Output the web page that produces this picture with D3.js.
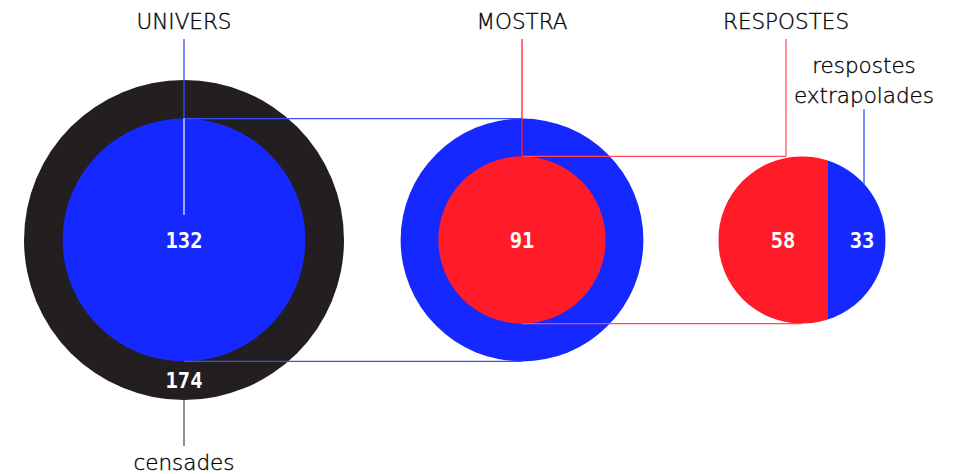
<!DOCTYPE html>
<html><head><meta charset="utf-8">
<script src="https://cdn.jsdelivr.net/npm/d3@7"></script>
<style>body{margin:0;background:#fff}svg{display:block}</style>
</head><body><svg id="c" width="956" height="474"></svg>
<script>
const categories = ["UNIVERS","MOSTRA","RESPOSTES"];
const totals = [174, 132, 91];
const inner = [132, 91];
const respostes = [58, 33];
const partLabels = ["censades","respostes extrapolades"];

const BLACK="#231f20", BLUE="#1428ff", RED="#ff1c28";
const svg=d3.select("#c");
const r=d3.scaleLinear().domain([0,174]).range([0,160]);
const xs={UNIVERS:184,MOSTRA:522,RESPOSTES:802};
const cy=240;

svg.append("circle").attr("cx",xs.UNIVERS).attr("cy",cy).attr("r",r(totals[0])).attr("fill",BLACK);
svg.append("circle").attr("cx",xs.UNIVERS).attr("cy",cy).attr("r",r(inner[0])).attr("fill",BLUE);
svg.append("circle").attr("cx",xs.MOSTRA).attr("cy",cy).attr("r",r(totals[1])).attr("fill",BLUE);
svg.append("circle").attr("cx",xs.MOSTRA).attr("cy",cy).attr("r",r(inner[1])).attr("fill",RED);
const rr=r(totals[2]);
const split=xs.RESPOSTES-rr+2*rr*respostes[0]/totals[2]+3;
const cp=svg.append("clipPath").attr("id","cp");
cp.append("circle").attr("cx",xs.RESPOSTES).attr("cy",cy).attr("r",rr);
const gr=svg.append("g").attr("clip-path","url(#cp)");
gr.append("rect").attr("x",xs.RESPOSTES-rr).attr("y",cy-rr).attr("width",split-(xs.RESPOSTES-rr)).attr("height",2*rr).attr("fill",RED);
gr.append("rect").attr("x",split).attr("y",cy-rr).attr("width",xs.RESPOSTES+rr-split).attr("height",2*rr).attr("fill",BLUE);

const line=(x1,y1,x2,y2,c)=>svg.append("line").attr("x1",x1).attr("y1",y1).attr("x2",x2).attr("y2",y2).attr("stroke",c).attr("stroke-width",1.3);
line(xs.UNIVERS,cy-r(inner[0]),xs.MOSTRA,cy-r(totals[1]),"#3a4dff");
line(xs.UNIVERS,cy+r(inner[0]),xs.MOSTRA,cy+r(totals[1]),"#3a4dff");
line(xs.MOSTRA,cy-r(inner[1]),786,cy-rr,"#ff4a55");
line(xs.MOSTRA,cy+r(inner[1]),xs.RESPOSTES,cy+rr,"#ff4a55");
line(xs.UNIVERS,39,xs.UNIVERS,cy-r(inner[0]),"#3a4dff");
line(xs.UNIVERS,cy-r(inner[0]),xs.UNIVERS,215,"#e8ecff");
line(xs.MOSTRA,39,xs.MOSTRA,cy-r(inner[1]),RED);
line(786,39,786,cy-rr,"#ff5560");
line(864,109,864,185,"#3a4dff");
line(xs.UNIVERS,cy+r(totals[0]),xs.UNIVERS,446,"#555");

const lab=svg.append("g").attr("font-family","'DejaVu Sans', sans-serif").attr("font-weight",200).attr("font-size",21.5).attr("fill","#000").attr("stroke","#000").attr("stroke-width",0.35).attr("text-anchor","middle");
lab.append("text").attr("x",xs.UNIVERS).attr("y",29).text(categories[0]);
lab.append("text").attr("x",xs.MOSTRA).attr("y",29).text(categories[1]);
lab.append("text").attr("x",786).attr("y",29).text(categories[2]);
lab.append("text").attr("x",864).attr("y",73).text(partLabels[1].split(" ")[0]);
lab.append("text").attr("x",864).attr("y",103).text(partLabels[1].split(" ")[1]);
lab.append("text").attr("x",xs.UNIVERS).attr("y",470).text(partLabels[0]);

const v=svg.append("g").attr("font-family","'DejaVu Sans Mono', monospace").attr("font-weight","bold").attr("font-size",20.5).attr("fill","#fff").attr("text-anchor","middle").attr("dominant-baseline","central");
v.append("text").attr("x",xs.UNIVERS).attr("y",cy+1).text(inner[0]);
v.append("text").attr("x",xs.UNIVERS).attr("y",381).text(totals[0]);
v.append("text").attr("x",xs.MOSTRA).attr("y",cy+1).text(inner[1]);
v.append("text").attr("x",783).attr("y",cy+1).text(respostes[0]);
v.append("text").attr("x",862).attr("y",cy+1).text(respostes[1]);
</script></body></html>
